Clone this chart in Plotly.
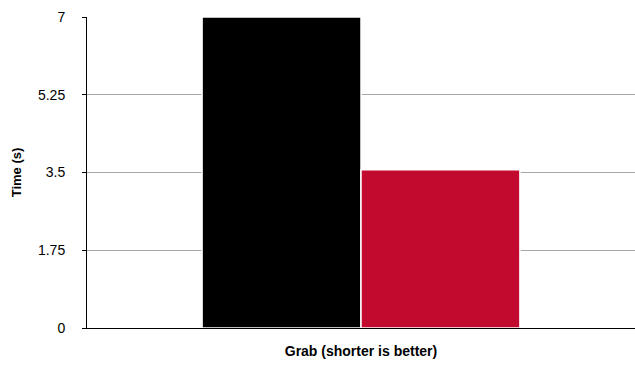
import plotly.graph_objects as go

category = ["Grab (shorter is better)"]
series_names = ["A", "B"]
series_values = [[7.0], [3.56]]
series_colors = ["#000000", "#C20A2E"]
y_ticks = [0, 1.75, 3.5, 5.25, 7]
y_tick_labels = ["0", "1.75", "3.5", "5.25", "7"]

fig = go.Figure()
for name, vals, col in zip(series_names, series_values, series_colors):
    fig.add_trace(go.Bar(
        x=category, y=vals, name=name,
        marker=dict(color=col, line=dict(color="white", width=1.5)),
        showlegend=False,
    ))

fig.update_layout(
    width=635, height=366,
    margin=dict(l=87, r=0, t=17, b=38),
    paper_bgcolor="white", plot_bgcolor="white",
    barmode="group", bargap=0.42, bargroupgap=0,
    font=dict(family="Liberation Sans, Arial, sans-serif", color="#000000", size=14),
    showlegend=False,
)
fig.update_xaxes(
    showticklabels=False, showline=True, linecolor="#000000", linewidth=1,
    ticks="", showgrid=False,
    title=dict(text="<b>Grab (shorter is better)</b>", font=dict(size=14), standoff=18),
)
fig.update_yaxes(
    range=[0, 7], tickvals=y_ticks, ticktext=y_tick_labels,
    showline=True, linecolor="#000000", linewidth=1,
    ticks="outside", ticklen=4, tickcolor="#000000",
    ticklabelstandoff=14,
    showgrid=True, gridcolor="#a8a8a8", gridwidth=1,
    zeroline=False,
    title=dict(text="<b>Time (s)</b>", font=dict(size=13), standoff=13),
)

fig.write_html("out.html")
